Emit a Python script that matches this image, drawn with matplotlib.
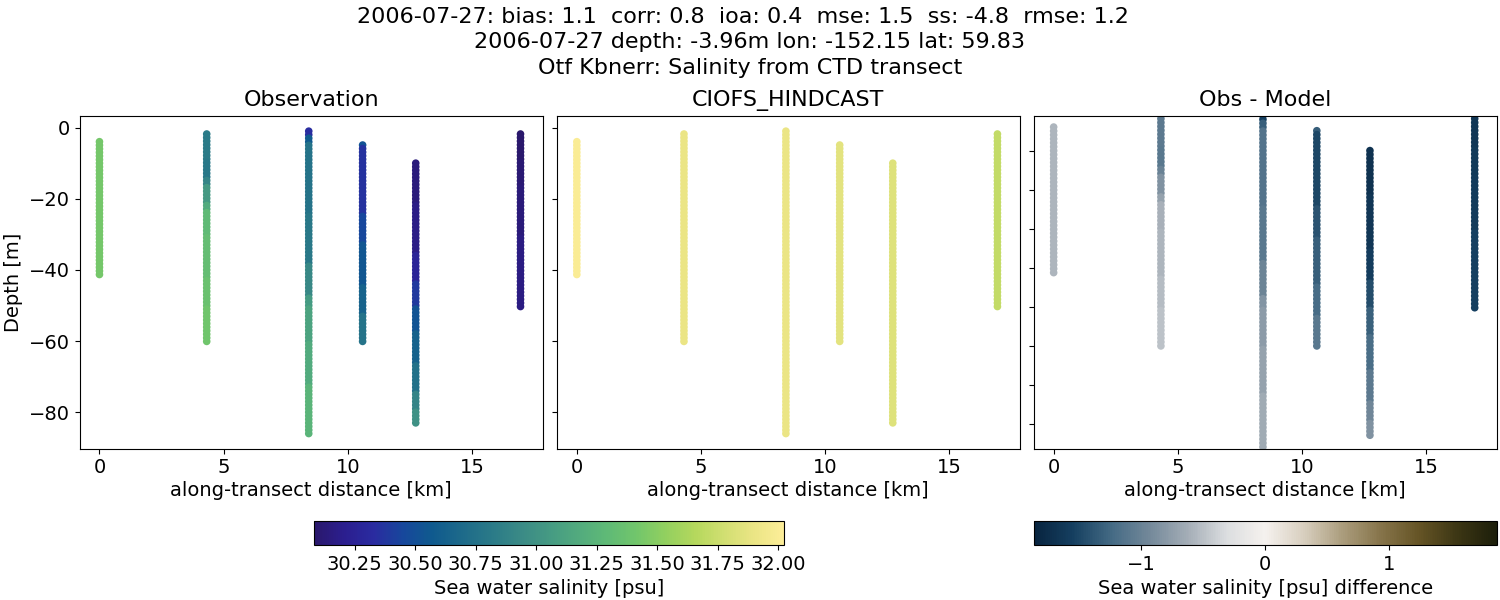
import numpy as np
import matplotlib
matplotlib.use("Agg")
import matplotlib.pyplot as plt
from matplotlib.colors import LinearSegmentedColormap

# Transect data (one sample per metre of depth, about)
distance_km = [0.0, 4.32, 8.43, 10.6, 12.74, 16.96]
top_depth = [-3.96, -1.8, -1.0, -4.9, -10.0, -1.8]
bottom_depth = [-41.3, -60.1, -86.0, -60.1, -83.0, -50.3]

obs_salinity = [
    [31.43] * 38,
    [30.82] * 8 + [30.8] * 5 + [30.9] * 2 + [31.05] * 5 + [31.18] * 2 + [31.3] * 7 + [31.33] * 12 + [31.37] * 8 + [31.41] * 10,
    [30.34] * 2 + [30.58] * 2 + [30.76] * 20 + [30.8] * 14 + [30.92] * 9 + [31.06] * 3 + [31.12] * 10 + [31.18] * 12 + [31.25] * 14,
    [30.52] * 1 + [30.36] * 19 + [30.45] * 8 + [30.54] * 12 + [30.64] * 8 + [30.76] * 8,
    [30.14] * 12 + [30.18] * 14 + [30.26] * 8 + [30.39] * 7 + [30.53] * 7 + [30.63] * 9 + [30.75] * 8 + [30.89] * 5 + [30.99] * 4,
    [30.08] * 8 + [30.11] * 7 + [30.13] * 14 + [30.16] * 20,
]
model_salinity = [
    [32.0] * 38,
    [31.9] * 59,
    [31.9] * 86,
    [31.86] * 56,
    [31.84] * 74,
    [31.72] * 49,
]

vmin_sal, vmax_sal = 30.084, 32.024
diff_limit = 1.867
xticks = [0, 5, 10, 15]
yticks = [0, -20, -40, -60, -80]
yticks_diff = [-10, -20, -30, -40, -50, -60, -70, -80]
sal_ticks = [30.25, 30.5, 30.75, 31.0, 31.25, 31.5, 31.75, 32.0]
diff_ticks = [-1, 0, 1]

titles = ["Observation", "CIOFS_HINDCAST", "Obs - Model"]
suptitle = ("2006-07-27: bias: 1.1  corr: 0.8  ioa: 0.4  mse: 1.5  ss: -4.8  rmse: 1.2  \n"
            "2006-07-27 depth: -3.96m lon: -152.15 lat: 59.83\n"
            "Otf Kbnerr: Salinity from CTD transect")

haline = LinearSegmentedColormap.from_list("haline", [
    "#2a186c", "#2b1e8f", "#2a2ba0", "#17479c", "#0f5a8e", "#1d6a8a", "#2a7a88",
    "#3a8a86", "#459a83", "#52aa7e", "#5fba76", "#72c66b", "#93d05f", "#b5d85d",
    "#d2df72", "#ebe585", "#fdee99"], N=256)
diff_cm = LinearSegmentedColormap.from_list("diff", [
    "#08243f", "#153f60", "#446a84", "#74899a", "#a5aeb7", "#dcdee0", "#f5f1ee",
    "#d8cfbf", "#ab9d7d", "#86744a", "#655425", "#3c3614", "#1c1e0a"], N=256)

plt.rcParams["font.size"] = 14
fig = plt.figure(figsize=(15, 6), dpi=100)
W, H = 1500.0, 600.0


def axes_px(x0, x1, y0, y1):
    return fig.add_axes([x0 / W, 1 - y1 / H, (x1 - x0) / W, (y1 - y0) / H])


ax_obs = axes_px(79.6, 542.6, 115.5, 448.5)
ax_mod = axes_px(557, 1019.5, 115.5, 448.5)
ax_dif = axes_px(1033.8, 1496.8, 115.5, 448.5)
cax_sal = axes_px(314.3, 784.2, 521, 545)
cax_dif = axes_px(1033.8, 1496.8, 521, 545)

MS = 30
for i, x in enumerate(distance_km):
    obs = np.array(obs_salinity[i])
    mod = np.array(model_salinity[i])
    depth = np.linspace(top_depth[i], bottom_depth[i], len(obs))
    xs = np.full(len(obs), x)
    sc_obs = ax_obs.scatter(xs, depth, c=obs, s=MS, cmap=haline, vmin=vmin_sal, vmax=vmax_sal, linewidths=0)
    ax_mod.scatter(xs, depth, c=mod, s=MS, cmap=haline, vmin=vmin_sal, vmax=vmax_sal, linewidths=0)
    sc_dif = ax_dif.scatter(xs, depth, c=obs - mod, s=MS, cmap=diff_cm, vmin=-diff_limit, vmax=diff_limit, linewidths=0)

for ax, title in zip((ax_obs, ax_mod, ax_dif), titles):
    ax.set_xlim(-0.8, 17.85)
    ax.set_xticks(xticks)
    ax.set_xlabel("along-transect distance [km]", fontsize=14, labelpad=3)
    ax.set_title(title, fontsize=16, pad=7)
    ax.tick_params(labelsize=14)

for ax in (ax_obs, ax_mod):
    ax.set_ylim(-90.2, 3.4)
    ax.set_yticks(yticks)
ax_obs.set_ylabel("Depth [m]", fontsize=14, labelpad=4)
ax_mod.set_yticklabels([])
ax_dif.set_ylim(-86.4, -1.0)
ax_dif.set_yticks(yticks_diff)
ax_dif.set_yticklabels([])

cb1 = fig.colorbar(sc_obs, cax=cax_sal, orientation="horizontal")
cb1.set_ticks(sal_ticks)
cb1.set_ticklabels([f"{t:.2f}" for t in sal_ticks])
cb1.set_label("Sea water salinity [psu]", fontsize=14)
cb2 = fig.colorbar(sc_dif, cax=cax_dif, orientation="horizontal")
cb2.set_ticks(diff_ticks)
cb2.set_label("Sea water salinity [psu] difference", fontsize=14)
for cb in (cb1, cb2):
    cb.ax.tick_params(labelsize=14)

fig.text(0.5, 0.9945 - 4 / H, suptitle, ha="center", va="top", fontsize=16, linespacing=1.32)
fig.savefig("out.png", dpi=100)
